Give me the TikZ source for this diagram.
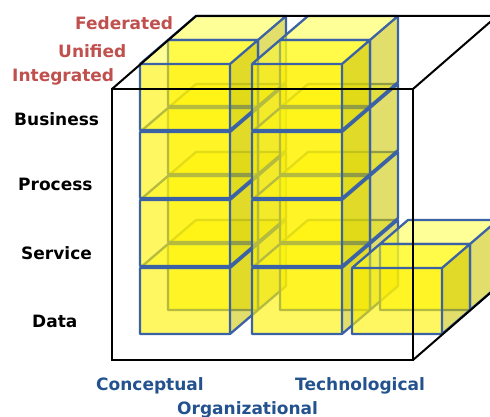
\documentclass[tikz,border=0pt]{standalone}
\usepackage{fontspec}
\setmainfont{DejaVu Sans}
\definecolor{edgeblue}{HTML}{3C62A6}
\definecolor{sideyellow}{HTML}{CCC600}
\definecolor{topyellow}{HTML}{FFFF30}
\definecolor{labelred}{HTML}{C0504D}
\definecolor{labelblue}{HTML}{24528E}
\tikzset{
  cubeedge/.style={draw=edgeblue, line width=2.3pt, line join=round},
  frontfill/.style={fill=yellow, fill opacity=0.62},
  topfill/.style={fill=topyellow, fill opacity=0.5},
  sidefill/.style={fill=sideyellow, fill opacity=0.58},
  bigedge/.style={draw=black, line width=2pt, line join=miter},
  rowlabel/.style={anchor=base west, inner sep=0pt, font=\fontsize{17}{19}\selectfont\bfseries, text=black},
  depthlabel/.style={anchor=base west, inner sep=0pt, font=\fontsize{17}{19}\selectfont\bfseries, text=labelred},
  collabel/.style={anchor=base west, inner sep=0pt, font=\fontsize{17}{19}\selectfont\bfseries, text=labelblue}
}
\newcommand\drawcube[2]{%
  \begin{scope}[shift={(#1,#2)}]
    \fill[sidefill] (90,0)--(118,-24)--(118,42)--(90,66)--cycle;
    \fill[topfill] (0,0)--(28,-24)--(118,-24)--(90,0)--cycle;
    \fill[frontfill] (0,0) rectangle (90,66);
    \draw[cubeedge] (0,0) rectangle (90,66)
      (0,0)--(28,-24)--(118,-24)--(90,0)
      (118,-24)--(118,42)--(90,66);
  \end{scope}}
\begin{document}
\begin{tikzpicture}[x=1pt,y=-1pt]
  \useasboundingbox (0,0) rectangle (490,417);
  \begin{scope}
    \clip (0,0) rectangle (490,417);
    % depth 2 (Federated layer)
    \drawcube{168}{244}\drawcube{168}{176}\drawcube{168}{108}\drawcube{168}{40}
    \drawcube{280}{244}\drawcube{280}{176}\drawcube{280}{108}\drawcube{280}{40}
    \drawcube{380}{244}
    % depth 1 (Unified layer)
    \drawcube{140}{268}\drawcube{140}{200}\drawcube{140}{132}\drawcube{140}{64}
    \drawcube{252}{268}\drawcube{252}{200}\drawcube{252}{132}\drawcube{252}{64}
    \drawcube{352}{268}
    % big frame cube
    \coordinate (fa) at (112,89);
    \coordinate (fb) at (413,89);
    \coordinate (fc) at (413,360);
    \coordinate (fd) at (112,360);
    \coordinate (ba) at (196,16);
    \coordinate (bb) at (497,16);
    \coordinate (bc) at (497,287);
    \draw[bigedge] (fa) rectangle (fc);
    \draw[bigedge] (fa) -- (ba) -- (bb) -- (fb);
    \draw[bigedge] (fc) -- (bc);
  \end{scope}
  % labels
  \node[depthlabel] (fed) at (75,30) {Federated};
  \node[depthlabel] (uni) at (58,58) {Unified};
  \node[depthlabel] (int) at (12,82) {Integrated};
  \node[rowlabel] (bus) at (14,126) {Business};
  \node[rowlabel] (pro) at (18,190) {Process};
  \node[rowlabel] (ser) at (21,259) {Service};
  \node[rowlabel] (dat) at (32,327) {Data};
  \node[collabel] (con) at (96,390) {Conceptual};
  \node[collabel] (tec) at (295,390) {Technological};
  \node[collabel] (org) at (177,414) {Organizational};
\end{tikzpicture}
\end{document}
